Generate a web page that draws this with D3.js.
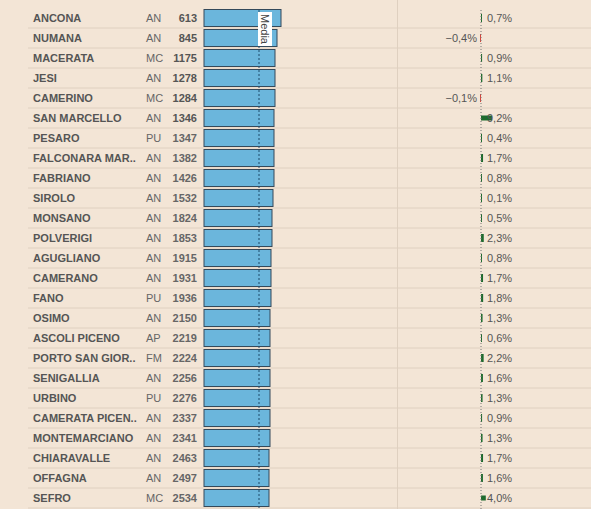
<!DOCTYPE html>
<html><head><meta charset="utf-8">
<script src="https://cdn.jsdelivr.net/npm/d3@7"></script>
<style>body{margin:0;background:#f3e5d6;font-family:Arial,"Liberation Sans",sans-serif}</style>
</head><body><div id="chart"></div>
<script>
const comuni = ["ANCONA","NUMANA","MACERATA","JESI","CAMERINO","SAN MARCELLO","PESARO","FALCONARA MAR..","FABRIANO","SIROLO","MONSANO","POLVERIGI","AGUGLIANO","CAMERANO","FANO","OSIMO","ASCOLI PICENO","PORTO SAN GIOR..","SENIGALLIA","URBINO","CAMERATA PICEN..","MONTEMARCIANO","CHIARAVALLE","OFFAGNA","SEFRO"];
const province = ["AN","AN","MC","AN","MC","AN","PU","AN","AN","AN","AN","AN","AN","AN","PU","AN","AP","FM","AN","PU","AN","AN","AN","AN","MC"];
const posizioni = [613,845,1175,1278,1284,1346,1347,1382,1426,1532,1824,1853,1915,1931,1936,2150,2219,2224,2256,2276,2337,2341,2463,2497,2534];
// bar values
const valori = [77,73,71,71,71,70,70,70,70,69,68,68,67,67,67,66,66,66,66,66,66,66,65,65,65];
const media = 55;
const variazioni = [0.7,-0.4,0.9,1.1,-0.1,9.2,0.4,1.7,0.8,0.1,0.5,2.3,0.8,1.7,1.8,1.3,0.6,2.2,1.6,1.3,0.9,1.3,1.7,1.6,4.0];

const W = 591, H = 509, rowH = 20, top0 = 8;
const svg = d3.select("#chart").append("svg").attr("width", W).attr("height", H);
svg.append("rect").attr("width", W).attr("height", H).attr("fill", "#f3e5d6");

const y = d3.scaleBand().domain(d3.range(comuni.length)).range([top0, top0 + rowH * comuni.length]);
const xb = d3.scaleLinear().domain([0, 80]).range([204, 284]);
const xv = d3.scaleLinear().domain([-10, 10]).range([469, 493]);
const fmt = v => d3.format(".1f")(v).replace(".", ",") + "%";

// row separators and column divider
svg.selectAll(".sep").data(d3.range(comuni.length)).enter().append("line")
  .attr("x1", 28).attr("x2", W).attr("y1", i => y(i) + rowH).attr("y2", i => y(i) + rowH)
  .attr("stroke", "#dfd0c0").attr("stroke-width", 1);
svg.append("line").attr("x1", 397.5).attr("x2", 397.5).attr("y1", 0).attr("y2", H)
  .attr("stroke", "#dfd0c0");

const row = svg.selectAll(".row").data(comuni).enter().append("g")
  .attr("transform", (d, i) => `translate(0,${y(i) + rowH / 2})`);
row.append("text").attr("x", 33).attr("dy", "0.35em").attr("font-size", 11).attr("font-weight", "bold")
  .attr("fill", "#555").text(d => d);
row.append("text").attr("x", 146).attr("dy", "0.35em").attr("font-size", 11).attr("fill", "#666")
  .text((d, i) => province[i]);
row.append("text").attr("x", 197).attr("dy", "0.35em").attr("font-size", 11).attr("font-weight", "bold")
  .attr("text-anchor", "end").attr("fill", (d, i) => i < 6 ? "#555" : "#666").text((d, i) => posizioni[i]);
row.append("rect").attr("x", xb(0)).attr("y", -8.5).attr("height", 17)
  .attr("width", (d, i) => xb(valori[i]) - xb(0))
  .attr("fill", "#6bb6dc").attr("stroke", "#34495a").attr("stroke-width", 1);

// media line
svg.append("line").attr("x1", xb(media)).attr("x2", xb(media)).attr("y1", top0 + 2).attr("y2", H)
  .attr("stroke", "#1f4a6a").attr("stroke-dasharray", "2,2");
const mg = svg.append("g").attr("transform", `translate(${xb(media) + 6},${top0 + 4}) rotate(90)`);
mg.append("rect").attr("x", 0).attr("y", -7).attr("width", 34).attr("height", 14).attr("fill", "#fff");
mg.append("text").attr("x", 2).attr("dy", "0.35em").attr("font-size", 11).attr("fill", "#444").text("Media");

// variation zero line
svg.append("line").attr("x1", xv(0)).attr("x2", xv(0)).attr("y1", top0 + 2).attr("y2", H)
  .attr("stroke", "#777").attr("stroke-dasharray", "1,2");
row.append("rect")
  .attr("x", (d, i) => variazioni[i] < 0 ? xv(0) - 1 : xv(0))
  .attr("y", (d, i) => Math.abs(variazioni[i]) > 3 ? -2.5 : -4)
  .attr("height", (d, i) => Math.abs(variazioni[i]) > 3 ? 5 : 8)
  .attr("width", (d, i) => Math.max(1, Math.abs(xv(variazioni[i]) - xv(0))))
  .attr("fill", (d, i) => variazioni[i] < 0 ? "#d9443a" : "#1e6b2e");
row.append("text")
  .attr("x", (d, i) => variazioni[i] < 0 ? xv(0) - 4 : xv(0) + 6)
  .attr("text-anchor", (d, i) => variazioni[i] < 0 ? "end" : "start")
  .attr("dy", "0.35em").attr("font-size", 11).attr("fill", "#555")
  .text((d, i) => fmt(variazioni[i]));
</script></body></html>
